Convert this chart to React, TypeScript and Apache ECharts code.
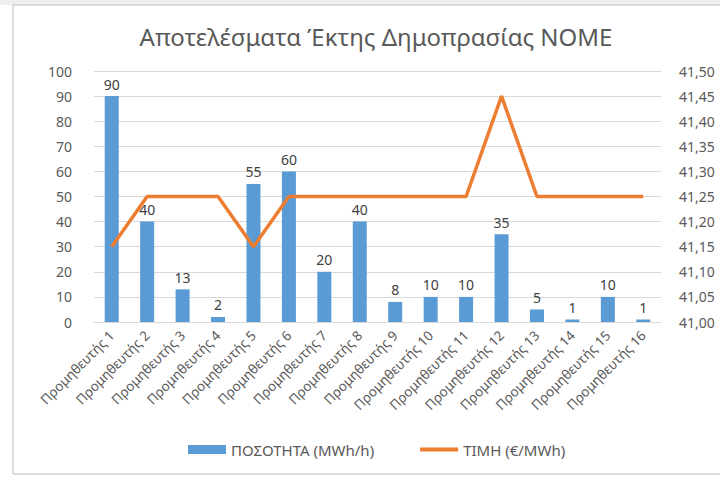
import React, { useEffect, useRef } from "react";
import * as echarts from "echarts";

const categories = Array.from({ length: 16 }, (_, i) => `Προμηθευτής ${i + 1}`);
const quantities = [90, 40, 13, 2, 55, 60, 20, 40, 8, 10, 10, 35, 5, 1, 10, 1];
const prices = [41.15, 41.25, 41.25, 41.25, 41.15, 41.25, 41.25, 41.25, 41.25, 41.25, 41.25, 41.45, 41.25, 41.25, 41.25, 41.25];
const title = "Αποτελέσματα Έκτης Δημοπρασίας NOME";
const seriesNames = ["ΠΟΣΟΤΗΤΑ (MWh/h)", "ΤΙΜΗ (€/MWh)"];

export default function App() {
  const ref = useRef<HTMLDivElement>(null);
  useEffect(() => {
    const chart = echarts.init(ref.current!, null, { renderer: "svg" });
    const font = "'Noto Sans', 'Open Sans', sans-serif";
    const txt = "#595959";
    chart.setOption({
      animation: false,
      backgroundColor: "#ffffff",
      textStyle: { fontFamily: font },
      title: {
        text: title,
        left: 371,
        top: 19,
        textAlign: "center",
        textStyle: { fontFamily: font, fontSize: 24, fontWeight: "normal", color: txt },
      },
      graphic: [
        { type: "rect", shape: { x: 0, y: 0, width: 720, height: 5 }, style: { fill: "#eeeeee" }, silent: true },
        { type: "line", shape: { x1: 13, y1: 5, x2: 720, y2: 5 }, style: { stroke: "#d0d0d0", lineWidth: 1.5 } },
        { type: "line", shape: { x1: 13, y1: 5, x2: 13, y2: 474 }, style: { stroke: "#d0d0d0", lineWidth: 1.5 } },
        { type: "line", shape: { x1: 13, y1: 474, x2: 720, y2: 474 }, style: { stroke: "#d0d0d0", lineWidth: 1.5 } },
      ],
      legend: {
        bottom: 15,
        left: 183,
        itemGap: 46,
        itemWidth: 38,
        itemHeight: 9,
        textStyle: { fontFamily: font, fontSize: 15, color: txt },
        data: [
          { name: seriesNames[0], icon: "rect" },
          { name: seriesNames[1], icon: "path://M0 0 H38 V4 H0 Z" },
        ],
      },
      grid: { left: 94, right: 59, top: 71, bottom: 155 },
      xAxis: {
        type: "category",
        data: categories,
        axisTick: { show: false },
        axisLine: { lineStyle: { color: "#d9d9d9" } },
        axisLabel: { rotate: 45, interval: 0, fontFamily: font, fontSize: 13.5, color: txt, margin: 11 },
      },
      yAxis: [
        {
          type: "value",
          min: 0,
          max: 100,
          interval: 10,
          axisLine: { show: false },
          axisTick: { show: false },
          splitLine: { lineStyle: { color: "#d9d9d9" } },
          axisLabel: { fontFamily: font, fontSize: 14, color: txt, margin: 22 },
        },
        {
          type: "value",
          min: 41,
          max: 41.5,
          interval: 0.05,
          axisLine: { show: false },
          axisTick: { show: false },
          splitLine: { show: false },
          axisLabel: {
            fontFamily: font,
            fontSize: 14,
            color: txt,
            margin: 18,
            formatter: (v: number) => v.toFixed(2).replace(".", ","),
          },
        },
      ],
      series: [
        {
          name: seriesNames[0],
          type: "bar",
          data: quantities,
          barWidth: 14,
          itemStyle: { color: "#5B9BD5" },
          label: { show: true, position: "top", fontFamily: font, fontSize: 14, color: "#404040" },
        },
        {
          name: seriesNames[1],
          type: "line",
          yAxisIndex: 1,
          data: prices,
          showSymbol: false,
          symbol: "none",
          lineStyle: { color: "#ED7D31", width: 3.5 },
          itemStyle: { color: "#ED7D31" },
        },
      ],
    });
    return () => chart.dispose();
  }, []);
  return <div ref={ref} style={{ width: 720, height: 477, position: "absolute", left: 0, top: 0 }} />;
}
